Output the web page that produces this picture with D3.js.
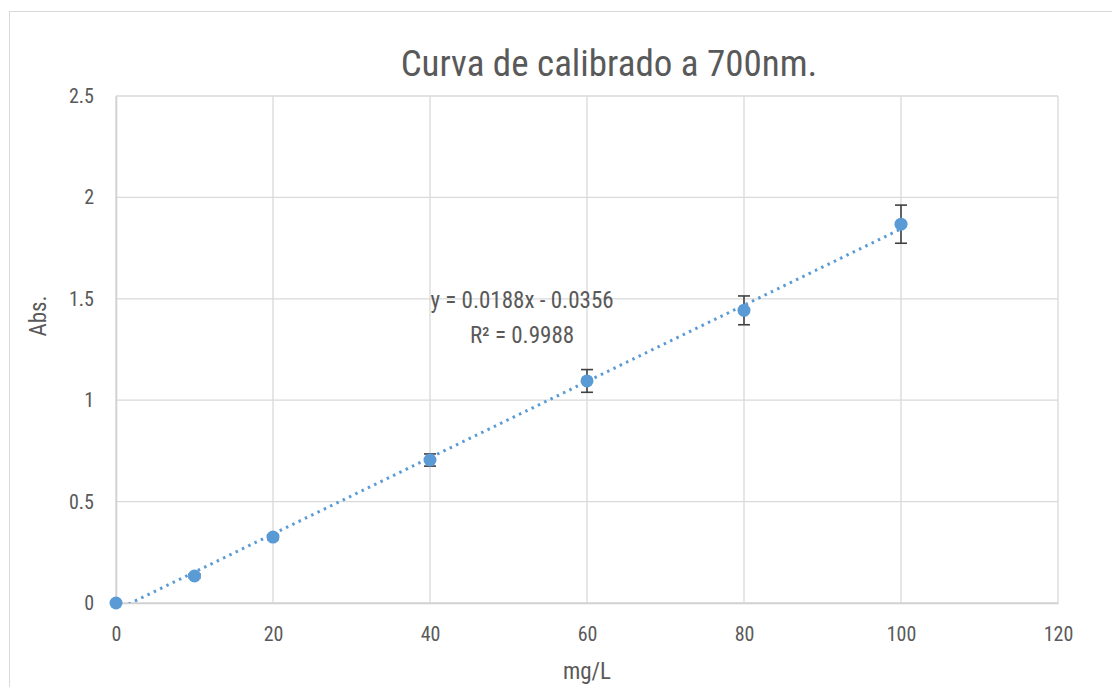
<!DOCTYPE html>
<html><head><meta charset="utf-8">
<script src="https://cdn.jsdelivr.net/npm/d3@7"></script>
<style>body{margin:0;background:#fff}</style>
</head><body>
<svg id="c" width="1112" height="687"></svg>
<script>
const concentrations = [0, 10, 20, 40, 60, 80, 100];
const absorbance = [0, 0.133, 0.325, 0.705, 1.095, 1.443, 1.868];
const errors = [0, 0.01, 0.012, 0.03, 0.056, 0.071, 0.094];
const xTicks = [0, 20, 40, 60, 80, 100, 120];
const yTicks = [0, 0.5, 1, 1.5, 2, 2.5];
const slope = 0.0188, intercept = -0.0356;
const title = "Curva de calibrado a 700nm.";
const eqText = ["y = 0.0188x - 0.0356", "R\u00b2 = 0.9988"];

const font = "'Liberation Sans Narrow','Arial Narrow','Roboto Condensed','Liberation Sans',sans-serif";
const svg = d3.select("#c");
const m = {l:116, r:1058, t:96, b:603};
const x = d3.scaleLinear().domain([0,120]).range([m.l, m.r]);
const y = d3.scaleLinear().domain([0,2.5]).range([m.b, m.t]);

svg.append("rect").attr("x",9.5).attr("y",11.5).attr("width",1120).attr("height",700)
  .attr("fill","#fff").attr("stroke","#d9d9d9");

// gridlines
svg.append("g").selectAll("line").data(yTicks).join("line")
  .attr("x1",m.l).attr("x2",m.r).attr("y1",d=>y(d)).attr("y2",d=>y(d))
  .attr("stroke","#d9d9d9").attr("stroke-width",1.3);
svg.append("g").selectAll("line").data(xTicks).join("line")
  .attr("y1",m.t).attr("y2",m.b).attr("x1",d=>x(d)).attr("x2",d=>x(d))
  .attr("stroke","#d9d9d9").attr("stroke-width",1.3);

// axes
const xa = svg.append("g").attr("transform",`translate(0,${m.b})`)
  .call(d3.axisBottom(x).tickValues(xTicks).tickSize(0).tickPadding(24));
const ya = svg.append("g").attr("transform",`translate(${m.l},0)`)
  .call(d3.axisLeft(y).tickValues(yTicks).tickSize(0).tickPadding(22).tickFormat(d=>String(d)));
[xa,ya].forEach(a=>{
  a.select(".domain").attr("stroke","#d0d0d0").attr("stroke-width",1.5);
  a.selectAll("text").attr("fill","#595959").style("font-family",font).style("font-size","20px");
});

// trendline
svg.append("clipPath").attr("id","pa").append("rect")
  .attr("x",m.l).attr("y",m.t).attr("width",m.r-m.l).attr("height",m.b-m.t);
svg.append("line").attr("clip-path","url(#pa)")
  .attr("x1",x(0)).attr("y1",y(intercept)).attr("x2",x(100)).attr("y2",y(slope*100+intercept))
  .attr("stroke","#5b9bd5").attr("stroke-width",3).attr("stroke-dasharray","2.5,4.5");

// error bars
const eb = svg.append("g").attr("stroke","#404040").attr("stroke-width",1.6);
concentrations.forEach((c,i)=>{
  if(!errors[i]) return;
  const cx=x(c), y1=y(absorbance[i]+errors[i]), y2=y(absorbance[i]-errors[i]);
  eb.append("line").attr("x1",cx).attr("x2",cx).attr("y1",y1).attr("y2",y2);
  eb.append("line").attr("x1",cx-6).attr("x2",cx+6).attr("y1",y1).attr("y2",y1);
  eb.append("line").attr("x1",cx-6).attr("x2",cx+6).attr("y1",y2).attr("y2",y2);
});

// markers
svg.append("g").selectAll("circle").data(concentrations).join("circle")
  .attr("cx",d=>x(d)).attr("cy",(d,i)=>y(absorbance[i])).attr("r",6.5)
  .attr("fill","#5b9bd5");

// equation
svg.append("g").selectAll("text").data(eqText).join("text")
  .attr("x",522).attr("y",(d,i)=>308+i*35).attr("text-anchor","middle")
  .attr("fill","#595959").style("font-family",font).style("font-size","23px").text(d=>d);

// title
svg.append("text").attr("x",609).attr("y",76).attr("text-anchor","middle")
  .attr("fill","#595959").style("font-family",font).style("font-size","37px").text(title);

// axis titles
svg.append("text").attr("x",587).attr("y",679).attr("text-anchor","middle")
  .attr("fill","#595959").style("font-family",font).style("font-size","23px").text("mg/L");
svg.append("text").attr("transform","translate(46,316) rotate(-90)").attr("text-anchor","middle")
  .attr("fill","#595959").style("font-family",font).style("font-size","23px").text("Abs.");
</script>
</body></html>
